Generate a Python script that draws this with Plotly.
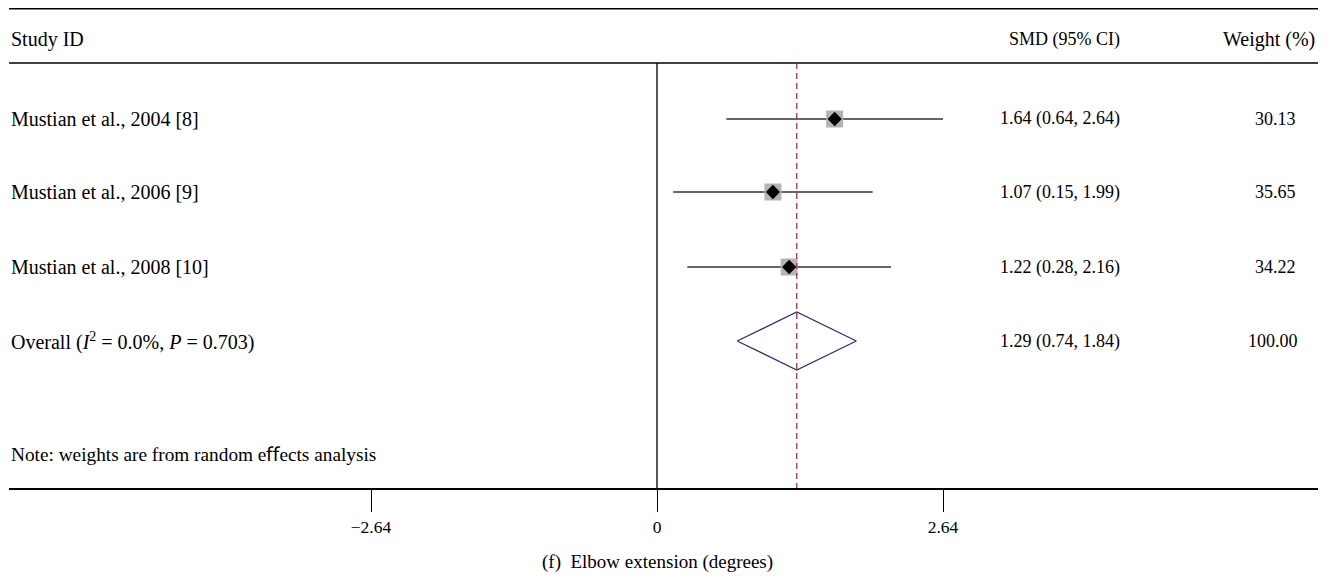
import plotly.graph_objects as go

# ---- data ----
studies = ["Mustian et al., 2004 [8]", "Mustian et al., 2006 [9]", "Mustian et al., 2008 [10]"]
smd = [1.64, 1.07, 1.22]
ci_low = [0.64, 0.15, 0.28]
ci_high = [2.64, 1.99, 2.16]
weights = [30.13, 35.65, 34.22]
overall_smd = 1.29
overall_low = 0.74
overall_high = 1.84
overall_weight = 100.00
overall_label = "Overall (<i>I</i><sup>2</sup> = 0.0%, <i>P</i> = 0.703)"
tick_vals = [-2.64, 0, 2.64]
tick_text = ["\u22122.64", "0", "2.64"]

# ---- layout constants (pixels; page body has an 8px margin) ----
OFF = 8
W, H = 1331 - OFF, 581 - OFF
X0PX, UNIT = 657 - OFF, 286 / 2.64
L, R = 9 - OFF, 1318 - OFF
AX_Y = 488 - OFF
HLINE_Y = 63 - OFF
row_y = [119 - OFF, 192 - OFF, 267 - OFF]
overall_y = 341 - OFF
diamond_half_h = 29
FONT = "Liberation Serif"
NUM_FS = 18

xr = [(L - X0PX) / UNIT, (R - X0PX) / UNIT]

fig = go.Figure()

for i in range(len(studies)):
    fig.add_trace(go.Scatter(x=[ci_low[i], ci_high[i]], y=[row_y[i], row_y[i]], mode="lines",
                             line=dict(color="#333333", width=1.3), hoverinfo="skip", showlegend=False))
fig.add_trace(go.Scatter(x=smd, y=row_y, mode="markers",
                         marker=dict(symbol="square", size=17, color="#b4b4b4", line=dict(width=0)),
                         showlegend=False))
fig.add_trace(go.Scatter(x=smd, y=row_y, mode="markers",
                         marker=dict(symbol="diamond", size=11, color="black", line=dict(width=0)),
                         showlegend=False))
fig.add_trace(go.Scatter(
    x=[overall_low, overall_smd, overall_high, overall_smd, overall_low],
    y=[overall_y, overall_y - diamond_half_h, overall_y, overall_y + diamond_half_h, overall_y],
    mode="lines", line=dict(color="#2b2f6e", width=1.3), showlegend=False))

shapes = [
    dict(type="line", xref="paper", yref="y", x0=0, x1=1, y0=0.75, y1=0.75, line=dict(color="black", width=1.5)),
    dict(type="line", xref="paper", yref="y", x0=0, x1=1, y0=HLINE_Y, y1=HLINE_Y, line=dict(color="black", width=1.5)),
    dict(type="line", xref="x", yref="y", x0=0, x1=0, y0=HLINE_Y, y1=AX_Y, line=dict(color="black", width=1.3)),
    dict(type="line", xref="x", yref="y", x0=overall_smd, x1=overall_smd, y0=HLINE_Y, y1=AX_Y,
         line=dict(color="#a3333d", width=1.3, dash="6px,4px")),
]

ann = []
def txt(xref_px, yref_px, s, xanchor="left", size=20):
    # positions given in reference-image pixels
    xp = (xref_px - OFF - L) / (R - L)
    yp = (AX_Y - (yref_px - OFF)) / AX_Y
    ann.append(dict(x=xp, y=yp, xref="paper", yref="paper", text=s,
                    showarrow=False, xanchor=xanchor, yanchor="middle",
                    font=dict(family=FONT, size=size, color="black")))

txt(9, 40, "Study ID")
txt(1064, 40, "SMD (95% CI)", "center", NUM_FS)
txt(1317, 40, "Weight (%)", "right", 20)
for i, s in enumerate(studies):
    yy = row_y[i] + OFF
    txt(9, yy, s)
    txt(1060, yy, f"{smd[i]:.2f} ({ci_low[i]:.2f}, {ci_high[i]:.2f})", "center", NUM_FS)
    txt(1275, yy, f"{weights[i]:.2f}", "center", NUM_FS)
txt(9, overall_y + OFF, overall_label)
txt(1060, overall_y + OFF, f"{overall_smd:.2f} ({overall_low:.2f}, {overall_high:.2f})", "center", NUM_FS)
txt(1273, overall_y + OFF, f"{overall_weight:.2f}", "center", NUM_FS)
txt(9, 454, "Note: weights are from random e\ufb00ects analysis", "left", 19.3)
txt(657, 562, "(f)\u2002Elbow extension (degrees)", "center", 19)

fig.update_layout(
    width=W, height=H, margin=dict(l=L, r=W - R, t=0, b=H - AX_Y),
    plot_bgcolor="white", paper_bgcolor="white",
    shapes=shapes, annotations=ann, showlegend=False,
    xaxis=dict(range=xr, showgrid=False, zeroline=False, showline=True, linecolor="black", linewidth=1.5,
               ticks="outside", ticklen=22, tickwidth=1.3, tickcolor="black",
               tickvals=tick_vals, ticktext=tick_text,
               tickfont=dict(family=FONT, size=17.5, color="black")),
    yaxis=dict(range=[AX_Y, 0], visible=False, showgrid=False, zeroline=False),
)

fig.write_html("out.html")
